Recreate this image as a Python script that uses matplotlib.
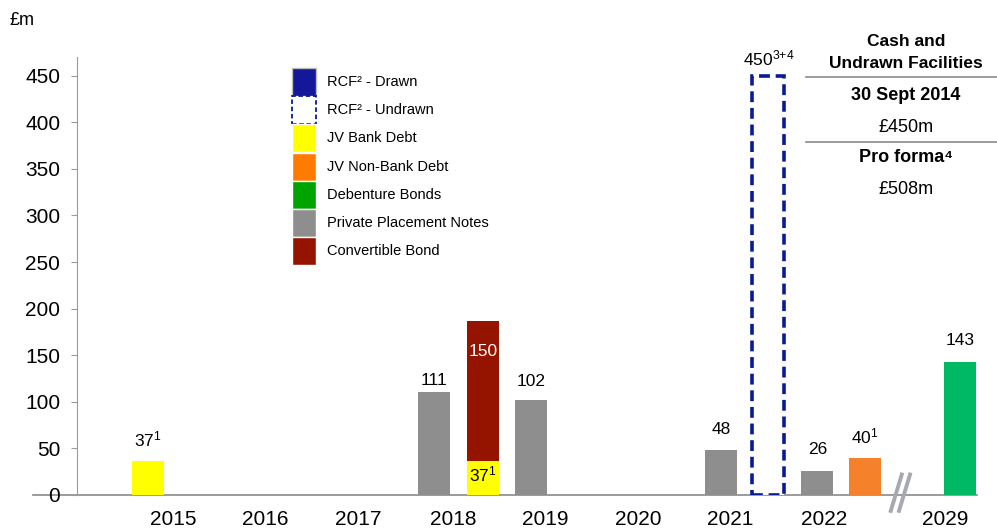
import matplotlib.pyplot as plt
from matplotlib.patches import Rectangle

plt.rcParams['font.family'] = ['Liberation Sans', 'DejaVu Sans']
plt.rcParams['mathtext.fontset'] = 'custom'
plt.rcParams['mathtext.rm'] = 'Liberation Sans'
plt.rcParams['mathtext.it'] = 'Liberation Sans:italic'
plt.rcParams['mathtext.bf'] = 'Liberation Sans:bold'

# year labels along the bottom and the slot each one sits at
years = ['2015', '2016', '2017', '2018', '2019', '2020', '2021', '2022', '2029']
year_pos = [0.52, 2.42, 4.33, 6.29, 8.19, 10.1, 12.0, 13.94, 16.43]

# private placement notes
pp_pos = [5.9, 7.9, 11.82, 13.8]
pp_vals = [111, 102, 48, 26]

# JV bank debt (2015 and under the convertible in 2018)
jvb_pos = [0, 6.91]
jvb_vals = [37, 37]

# convertible bond, stacked on top of the JV bank debt
cb_pos = [6.91]
cb_vals = [150]

# RCF undrawn
rcf_pos = [12.79]
rcf_vals = [450]

# JV non-bank debt
jvnb_pos = [14.78]
jvnb_vals = [40]

# debenture bonds
deb_pos = [16.74]
deb_vals = [143]

GREY = '#8E8E8E'
YELLOW = '#FFFF00'
RED = '#951400'
NAVY = '#0A1A96'
ORANGE = '#F5822A'
GREEN = '#00B964'

W = 0.66

fig = plt.figure(figsize=(9.97, 5.31), dpi=100)
ax = fig.add_axes([0.0772, 0.0678, 0.9028, 0.8249])

ax.bar(pp_pos, pp_vals, W, color=GREY, zorder=2)
ax.bar(jvb_pos, jvb_vals, W, color=YELLOW, zorder=2)
ax.bar(cb_pos, cb_vals, W, bottom=jvb_vals[1], color=RED, zorder=2)
ax.bar(rcf_pos, rcf_vals, W, color='white', edgecolor=NAVY, linestyle=(0, (3, 1.6)),
       linewidth=2.6, zorder=3)
ax.bar(jvnb_pos, jvnb_vals, W, color=ORANGE, zorder=2)
ax.bar(deb_pos, deb_vals, W, color=GREEN, zorder=2)

lab = dict(ha='center', va='center', fontsize=12.5, textcoords='offset points')
pp_offsets = [8, 13, 15, 15]
for x, v, dy in zip(pp_pos, pp_vals, pp_offsets):
    ax.annotate(str(v), (x, v), xytext=(0, dy), **lab)
ax.annotate('37$^1$', (jvb_pos[0], jvb_vals[0]), xytext=(0, 15), **lab)
ax.annotate('450$^{3{+}4}$', (rcf_pos[0], rcf_vals[0]), xytext=(0, 12), **lab)
ax.annotate('40$^1$', (jvnb_pos[0], jvnb_vals[0]), xytext=(0, 15), **lab)
ax.annotate(str(deb_vals[0]), (deb_pos[0], deb_vals[0]), xytext=(0, 15), **lab)
ax.text(jvb_pos[1], jvb_vals[1] * 0.6, '37$^1$', ha='center', va='center', fontsize=12.5, zorder=4)
ax.text(cb_pos[0], jvb_vals[1] + cb_vals[0] - 33, str(cb_vals[0]),
        ha='center', va='center', fontsize=12.5, color='white', zorder=4)

ax.set_xlim(-1.46, 17.09)
ax.set_ylim(0, 470)
ax.set_yticks(range(0, 451, 50))
ax.set_xticks(year_pos)
ax.set_xticklabels(years)
ax.tick_params(axis='y', length=4, color='#9A9A9A', labelsize=15, pad=8)
ax.tick_params(axis='x', length=0, labelsize=15, pad=11)
for s in ['top', 'right', 'bottom']:
    ax.spines[s].set_visible(False)
ax.spines['left'].set_color('#9A9A9A')
ax.axhline(0, xmin=-0.049, xmax=1, color='#8A8A8A', lw=1.2, clip_on=False, zorder=1)

# axis break between 2022 and 2029
for dx in (0, 0.17):
    ax.plot([15.30 + dx, 15.55 + dx], [-19, 24], color='#A8A8B2', lw=2.8,
            clip_on=False, solid_capstyle='butt', zorder=3)

fig.text(0.010, 0.962, '£m', fontsize=13, va='center')

# legend swatches
legend = [
    ('RCF² - Drawn', dict(facecolor='#13189A', edgecolor='#BBBBBB')),
    ('RCF² - Undrawn', dict(facecolor='white', edgecolor=NAVY, linestyle=(0, (2.5, 1.5)), linewidth=1.3)),
    ('JV Bank Debt', dict(facecolor=YELLOW, edgecolor='white')),
    ('JV Non-Bank Debt', dict(facecolor='#FF7A00', edgecolor='white')),
    ('Debenture Bonds', dict(facecolor='#00A400', edgecolor='white')),
    ('Private Placement Notes', dict(facecolor=GREY, edgecolor='white')),
    ('Convertible Bond', dict(facecolor=RED, edgecolor='white')),
]
H, X0 = 531.0, 292 / 997
for i, (name, kw) in enumerate(legend):
    top = 68 + i * 28.2
    fig.add_artist(Rectangle((X0, 1 - (top + 28) / H), 24 / 997, 28 / H,
                             transform=fig.transFigure, **kw))
    fig.text(327 / 997, 1 - (top + 14) / H, name, fontsize=10.5, va='center')

# cash and facilities summary
cx = 906 / 997
fig.text(cx, 1 - 42 / H, 'Cash and', fontsize=12.5, fontweight='bold', ha='center', va='center')
fig.text(cx, 1 - 63 / H, 'Undrawn Facilities', fontsize=12.5, fontweight='bold', ha='center', va='center')
fig.text(cx, 1 - 96 / H, '30 Sept 2014', fontsize=13, fontweight='bold', ha='center', va='center')
fig.text(cx, 1 - 128 / H, '£450m', fontsize=13, ha='center', va='center')
fig.text(cx, 1 - 158 / H, 'Pro forma⁴', fontsize=13, fontweight='bold', ha='center', va='center')
fig.text(cx, 1 - 190 / H, '£508m', fontsize=13, ha='center', va='center')
for y in (77, 142):
    fig.add_artist(plt.Line2D([806 / 997, 1.0], [1 - y / H] * 2, color='#8A8A8A', lw=1.2,
                              transform=fig.transFigure))

fig.savefig('out.png', dpi=100)
